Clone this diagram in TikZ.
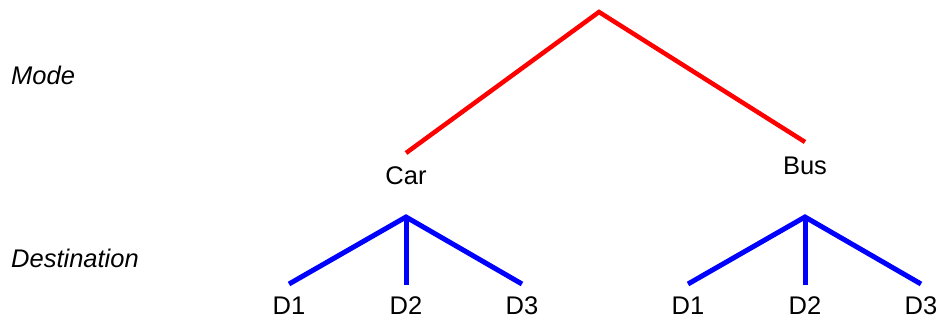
\documentclass[tikz,border=0pt]{standalone}
\usepackage{fontspec}
\setmainfont{Liberation Sans}
\begin{document}
\begin{tikzpicture}[x=1pt,y=-1pt,
  lbl/.style={font=\fontsize{25.5}{30}\selectfont, inner sep=0pt, anchor=base},
  lev/.style={font=\fontsize{25.5}{30}\selectfont\itshape, inner sep=0pt, anchor=base west},
  redline/.style={draw=red, line width=4.5pt},
  blueline/.style={draw=blue, line width=5pt}]
\useasboundingbox (0,0) rectangle (938,320);
\node[lev] (mode) at (11,85) {Mode};
\node[lev] (dest) at (11,268) {Destination};
\coordinate (root) at (599,12);
\coordinate (carTop) at (406,153);
\coordinate (busTop) at (805,142);
\node[lbl] (car) at (406,185) {Car};
\node[lbl] (bus) at (805,175) {Bus};
\coordinate (carBot) at (406,217);
\coordinate (busBot) at (805,217);
\coordinate (c1) at (289,284);
\coordinate (c2) at (406,285);
\coordinate (c3) at (522,284);
\coordinate (b1) at (688,284);
\coordinate (b2) at (805,285);
\coordinate (b3) at (921,284);
\node[lbl] (cd1) at (289,315) {D1};
\node[lbl] (cd2) at (406,315) {D2};
\node[lbl] (cd3) at (522,315) {D3};
\node[lbl] (bd1) at (688,315) {D1};
\node[lbl] (bd2) at (805,315) {D2};
\node[lbl] (bd3) at (921,315) {D3};
\draw[redline] (carTop) -- (root) -- (busTop);
\draw[blueline] (c1) -- (carBot) -- (c3);
\draw[blueline] (carBot) -- (c2);
\draw[blueline] (b1) -- (busBot) -- (b3);
\draw[blueline] (busBot) -- (b2);
\end{tikzpicture}
\end{document}
